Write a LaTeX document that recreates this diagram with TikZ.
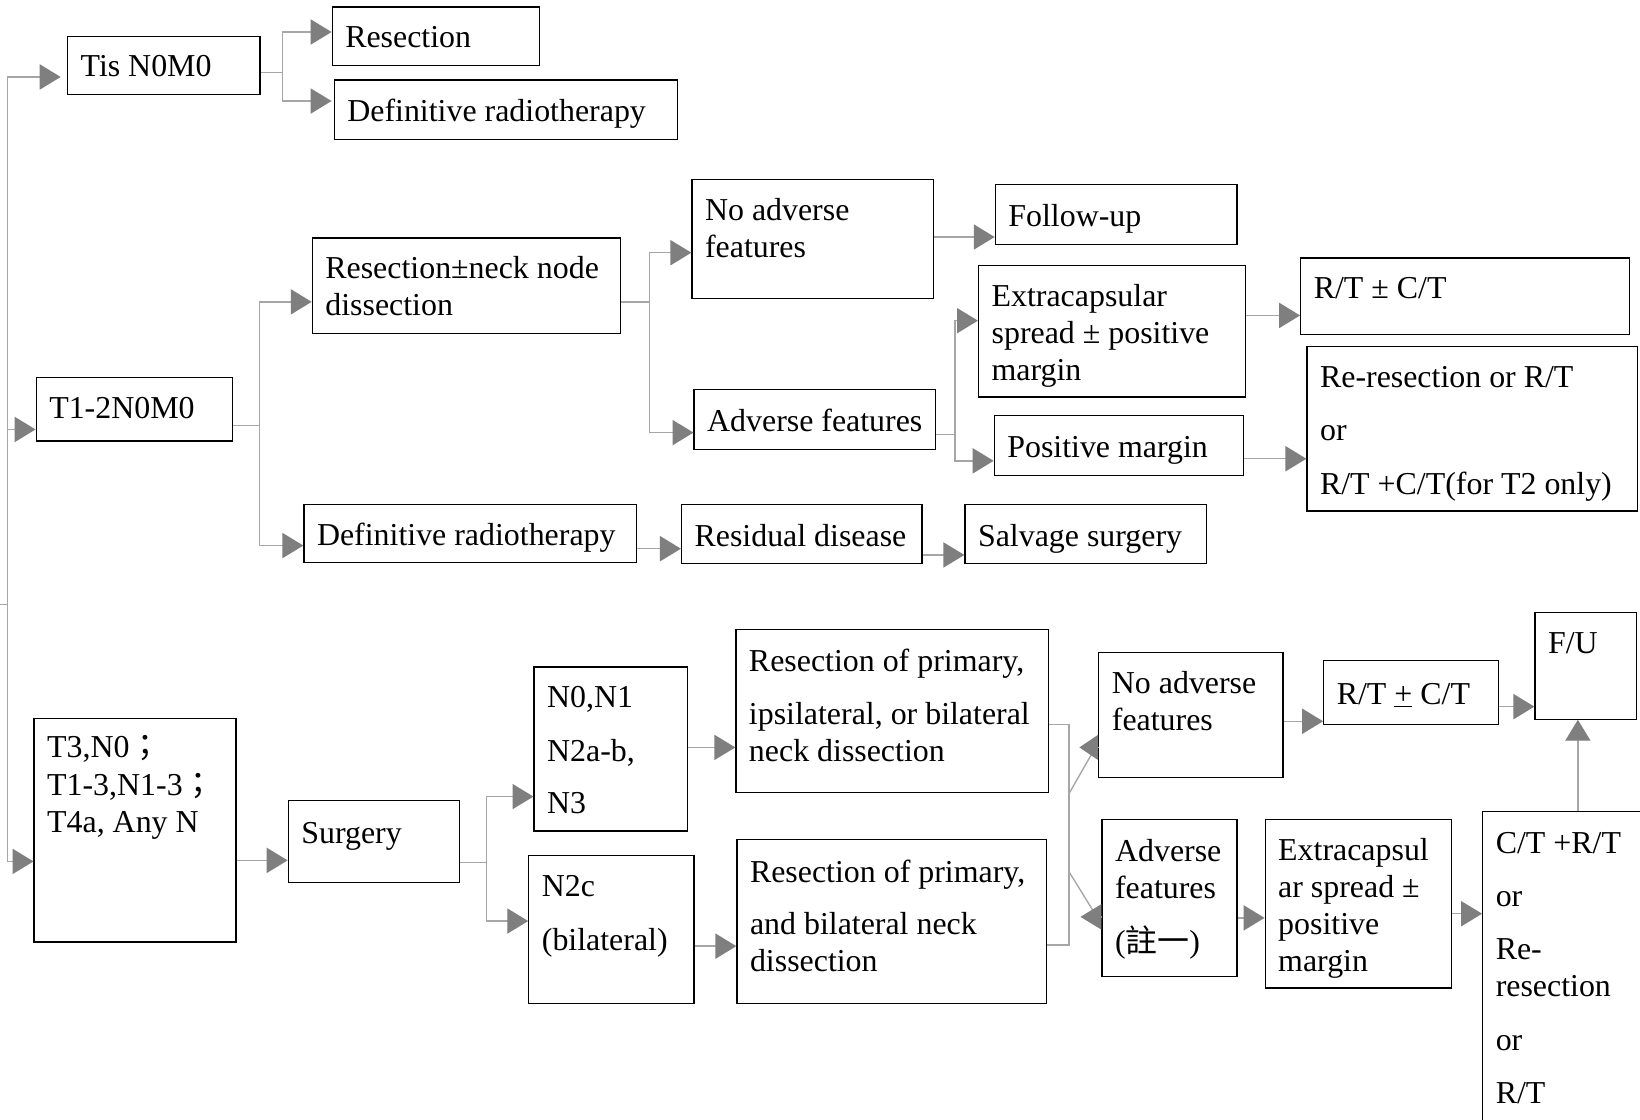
\documentclass[tikz,border=0pt]{standalone}
\usepackage{fontspec}
\setmainfont{Liberation Serif}
\newfontfamily\cjk{Noto Sans CJK TC}
\usetikzlibrary{arrows.meta}
\definecolor{lngray}{HTML}{A6A6A6}
\definecolor{arrgray}{HTML}{7F7F7F}
\newcommand\bxt[4]{\parbox[t][#2pt][t]{#1pt}{\raggedright\leftskip=12.5pt\rule{0pt}{#3pt}#4}}
\begin{document}
\begin{tikzpicture}[x=1pt,y=-1pt,
  font=\fontsize{30.5}{35.5}\selectfont,
  box/.style={draw=black, line width=1.2pt, inner sep=0pt, anchor=north west},
  ln/.style={draw=lngray, line width=1.3pt},
  arr/.style={ln, -{Triangle[length=20pt,width=24pt,color=arrgray]}},
  rarr/.style={ln, -{Triangle[length=18pt,width=24pt,color=arrgray]}}]
\useasboundingbox (0,0) rectangle (1568,1070);
\clip (0,0) rectangle (1568,1070);
\fill[white] (0,0) rectangle (1568,1070);

% boxes
\node[box] (tis)   at (64,34)    {\bxt{184}{56}{39}{Tis N0M0}};
\node[box] (res1)  at (317,6)    {\bxt{198}{56}{39}{Resection}};
\node[box] (def1)  at (319,76)   {\bxt{328}{57}{40}{Definitive radiotherapy}};
\node[box] (t12)   at (34,360)   {\bxt{188}{61}{40}{T1-2N0M0}};
\node[box] (resnd) at (298,227)  {\bxt{295}{91}{39}{Resection±neck node\\dissection}};
\node[box] (def2)  at (290,482)  {\bxt{318}{55}{39}{Definitive radiotherapy}};
\node[box] (noadv) at (661,171)  {\bxt{231}{114}{39}{No adverse\\features}};
\node[box] (adv)   at (663,372)  {\bxt{231}{57}{40}{Adverse features}};
\node[box] (fu)    at (951,176)  {\bxt{231}{57}{40}{Follow-up}};
\node[box] (ecs)   at (935,253)  {\bxt{255}{126}{39}{Extracapsular\\spread ± positive\\margin}};
\node[box] (pm)    at (950,397)  {\bxt{238}{57}{40}{Positive margin}};
\node[box] (rtct)  at (1243,246) {\bxt{314}{73}{39}{R/T ± C/T}};
\node[box] (rere)  at (1249,331) {\bxt{316}{157}{39}{Re-resection or R/T\\[15.5pt]or\\[15.5pt]R/T +C/T(for T2 only)}};
\node[box] (resid) at (651,482)  {\bxt{230}{56}{40}{Residual disease}};
\node[box] (salv)  at (922,482)  {\bxt{231}{56}{40}{Salvage surgery}};
\node[box] (t3)    at (32,686)   {\bxt{193}{214}{38}{T3,N0{\cjk ；}\\T1-3,N1-3{\cjk ；}\\T4a, Any N}};
\node[box] (surg)  at (275,765)  {\bxt{164}{78}{41}{Surgery}};
\node[box] (n01)   at (510,637)  {\bxt{147}{157}{39}{N0,N1\\[15.5pt]N2a-b,\\[15pt]N3}};
\node[box] (n2c)   at (505,817)  {\bxt{158}{142}{40}{N2c\\[15.5pt](bilateral)}};
\node[box] (rp1)   at (703,601)  {\bxt{299}{156}{40}{Resection of primary,\\[15.5pt]ipsilateral, or bilateral\\neck dissection}};
\node[box] (rp2)   at (704,802)  {\bxt{296}{157}{41}{Resection of primary,\\[14.5pt]and bilateral neck\\dissection}};
\node[box] (noadv2) at (1050,623) {\bxt{176}{120}{39}{No adverse\\features}};
\node[box] (adv2)  at (1053,783) {\bxt{129}{150}{40}{Adverse\\features\\[16.5pt]({\cjk 註一})}};
\node[box] (ecs2)  at (1209,783) {\bxt{178}{161}{39}{Extracapsul\\ar spread ±\\positive\\margin}};
\node[box] (rtct2) at (1265,631) {\bxt{167}{61}{42}{R/T \underline{+} C/T}};
\node[box] (fu2)   at (1467,585) {\bxt{97}{102}{39}{F/U}};
\node[box] (ctrt)  at (1417,775) {\bxt{200}{400}{40}{C/T +R/T\\[16pt]or\\[15pt]Re-\\resection\\[15.5pt]or\\[15pt]R/T}};

% left spine
\coordinate (root) at (0,578);
\coordinate (spine) at (7,578);
\draw[ln] (root) -- (spine);
\draw[arr] (spine) |- ([xshift=-6pt,yshift=-11pt]tis.west);
\draw[arr] (spine) |- ([yshift=-19.5pt]t12.west);
\draw[arr] (spine) |- ([yshift=-30pt]t3.west);

% Tis branch
\draw[ln] ([yshift=-6.5pt]tis.east) -- ++(21,0) coordinate (j1);
\draw[arr] (j1) |- ([yshift=4pt]res1.west);
\draw[arr] (j1) |- ([xshift=-2pt,yshift=8.5pt]def1.west);

% T1-2 branch
\draw[ln] ([yshift=-15.5pt]t12.east) -- ++(25,0) coordinate (j2);
\draw[arr] (j2) |- ([yshift=-15.5pt]resnd.west);
\draw[arr] (j2) |- ([yshift=-11.5pt]def2.west);

\draw[ln] ([yshift=-15.5pt]resnd.east) -- ++(27,0) coordinate (j3);
\draw[arr] (j3) |- ([yshift=-13pt]noadv.west);
\draw[arr] (j3) |- ([yshift=-12.5pt]adv.west);

\coordinate (a1) at ([yshift=2pt]noadv.east);
\draw[arr] (a1) -- (a1 -| fu.west);

\draw[ln] ([yshift=-14.5pt]adv.east) -- ++(18,0) coordinate (j4);
\draw[arr] (j4) |- ([yshift=10pt]ecs.west);
\draw[arr] (j4) |- ([yshift=-14.5pt]pm.west);

\coordinate (a2) at ([yshift=15pt]ecs.east);
\draw[arr] (a2) -- (a2 -| rtct.west);
\coordinate (a3) at ([yshift=-12.5pt]pm.east);
\draw[arr] (a3) -- (a3 -| rere.west);
\coordinate (a4) at ([yshift=-14.5pt]def2.east);
\draw[arr] (a4) -- (a4 -| resid.west);
\coordinate (a5) at ([yshift=-20pt]resid.east);
\draw[arr] (a5) -- (a5 -| salv.west);

% T3 branch
\coordinate (a6) at ([yshift=-29pt]t3.east);
\draw[arr] (a6) -- (a6 -| surg.west);
\draw[ln] ([yshift=-20pt]surg.east) -- ++(25,0) coordinate (j5);
\draw[arr] (j5) |- ([yshift=-45.5pt]n01.west);
\draw[arr] (j5) |- ([yshift=8pt]n2c.west);
\coordinate (a7) at ([yshift=1.5pt]n01.east);
\draw[arr] (a7) -- (a7 -| rp1.west);
\coordinate (a8) at ([yshift=-16pt]n2c.east);
\draw[arr] (a8) -- (a8 -| rp2.west);

\draw[ln] ([yshift=-13pt]rp1.east) -- ++(19,0) coordinate (j6);
\draw[ln] ([yshift=-22.5pt]rp2.east) -| (j6);
\draw[ln] ([yshift=-66pt]j6) -- ([xshift=-5pt,yshift=-35pt]noadv2.west);
\draw[rarr] ([yshift=-31pt]noadv2.west) -- ++(-18,0);
\draw[ln] ([yshift=-141pt]j6) -- ([xshift=-8pt,yshift=-12pt]adv2.west);
\draw[arr] ([yshift=-18pt]adv2.west) -- ++(-20,0);

\coordinate (a9) at ([yshift=-6pt]noadv2.east);
\draw[arr] (a9) -- (a9 -| rtct2.west);
\coordinate (a10) at ([yshift=-13.5pt]rtct2.east);
\draw[arr] (a10) -- (a10 -| fu2.west);
\coordinate (a11) at ([yshift=-19pt]adv2.east);
\draw[arr] (a11) -- (a11 -| ecs2.west);
\coordinate (a12) at ([yshift=-9.5pt]ecs2.east);
\draw[arr] (a12) -- (a12 -| ctrt.west);
\coordinate (a13) at ([xshift=-7.5pt]fu2.south);
\draw[arr] (a13 |- ctrt.north) -- (a13);
\end{tikzpicture}
\end{document}
